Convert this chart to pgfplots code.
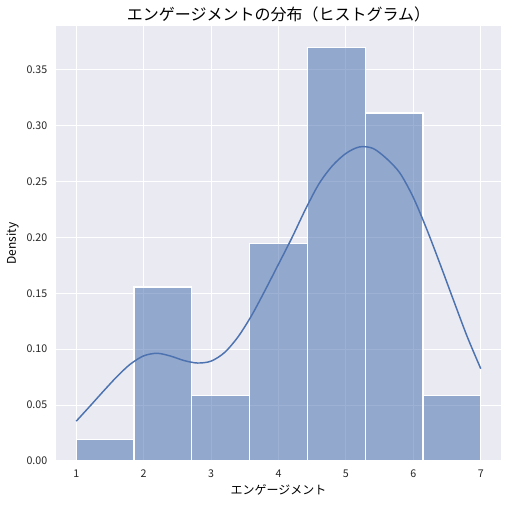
\documentclass[border=0pt]{standalone}
\usepackage{fontspec}
\setmainfont{Noto Sans CJK JP}
\usepackage{pgfplots}
\pgfplotsset{compat=1.18}
\definecolor{sbbg}{HTML}{EAEAF2}
\definecolor{sbblue}{HTML}{4C72B0}
\begin{document}
\begin{tikzpicture}
\begin{axis}[
  width=333.75pt, height=326.25pt, scale only axis,
  xmin=0.7, xmax=7.3, ymin=0, ymax=0.3889,
  axis background/.style={fill=sbbg},
  axis line style={draw=none},
  major tick length=0pt,
  grid=major, grid style={white, line width=0.8pt},
  xtick={1,2,...,7},
  ytick={0,0.05,...,0.35},
  y tick label style={/pgf/number format/fixed, /pgf/number format/fixed zerofill,
    /pgf/number format/precision=2},
  /pgf/number format/assume math mode=true,
  tick label style={font=\fontsize{8}{9}\selectfont, text=black!85},
  xticklabel style={yshift=-3pt},
  yticklabel style={xshift=-3pt},
  xlabel={エンゲージメント}, ylabel={Density},
  label style={font=\fontsize{9}{10}\selectfont},
  title={エンゲージメントの分布（ヒストグラム）},
  title style={font=\fontsize{12}{14}\selectfont, yshift=-6.5pt},
  ylabel style={yshift=-1pt},
  xlabel style={yshift=1.5pt},
]
% histogram (density), 7 bins over [1,7]
\addplot[ybar interval, fill=sbblue, fill opacity=0.55, draw=white, line width=0.8pt] coordinates {
(1.0000,0.01944) (1.8571,0.15556) (2.7143,0.05833) (3.5714,0.19444)
(4.4286,0.36944) (5.2857,0.31111) (6.1429,0.05833) (7.0000,0.05833)
};
% kde curve
\addplot[smooth, sbblue, line width=1.1pt] coordinates {
(1.0,0.0356) (1.2,0.0488) (1.4,0.0622) (1.6,0.0752) (1.8,0.0865)
(2.0,0.0940) (2.2,0.0963) (2.4,0.0938) (2.6,0.0898) (2.8,0.0876)
(3.0,0.0893) (3.2,0.0970) (3.4,0.1110) (3.6,0.1300) (3.8,0.1525)
(4.0,0.1760) (4.2,0.1997) (4.4,0.2250) (4.6,0.2478) (4.8,0.2640)
(5.0,0.2750) (5.2,0.2808) (5.4,0.2795) (5.6,0.2705) (5.8,0.2575)
(6.0,0.2355) (6.2,0.2070) (6.4,0.1755) (6.6,0.1430) (6.8,0.1110)
(7.0,0.0825)
};
\end{axis}
\pgfresetboundingbox
\path (current axis.south west) ++(-42pt,-32.25pt) coordinate (bl);
\path (current axis.north east) ++(5.25pt,19.5pt) coordinate (tr);
\useasboundingbox (bl) rectangle (tr);
\end{tikzpicture}
\end{document}
